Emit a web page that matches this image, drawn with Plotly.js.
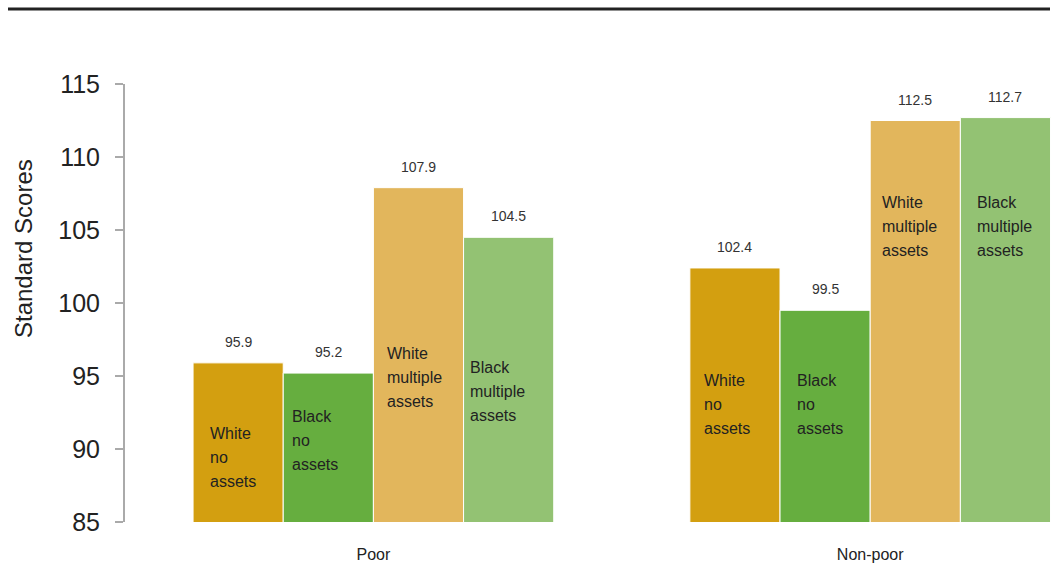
<!DOCTYPE html>
<html>
<head>
<meta charset="utf-8">
<script src="https://cdn.plot.ly/plotly-3.0.1.min.js"></script>
<style>html,body{margin:0;padding:0;background:#fff;}#chart{width:1057px;height:570px;}</style>
</head>
<body>
<div id="chart"></div>
<script>
// ---- data ----
const categories = ['Poor', 'Non-poor'];
const seriesNames = ['White no assets', 'Black no assets', 'White multiple assets', 'Black multiple assets'];
const whiteNoAssets = [95.9, 102.4];
const blackNoAssets = [95.2, 99.5];
const whiteMultipleAssets = [107.9, 112.5];
const blackMultipleAssets = [104.5, 112.7];
const barLabelLines = [
  ['White', 'no', 'assets'],
  ['Black', 'no', 'assets'],
  ['White', 'multiple', 'assets'],
  ['Black', 'multiple', 'assets']
];
const yTickValues = [85, 90, 95, 100, 105, 110, 115];
const yAxisTitle = 'Standard Scores';

// ---- styling / layout placement (not data) ----
const colors = ['#D39F10', '#66AE3F', '#E2B65C', '#93C273'];
const FONT = 'Liberation Sans, Arial, sans-serif';
const bargap = 0.274;
const barW = (1 - bargap) / 4;
// label block vertical centre (axis units) and left padding (px), per category then series
const labelCentre = [[89.45, 90.55, 94.93, 93.97], [93.08, 93.08, 105.27, 105.27]];
const labelPad = [[15, 7, 12, 4], [12, 15, 10, 15]];
const lineGap = 24;

const seriesValues = [whiteNoAssets, blackNoAssets, whiteMultipleAssets, blackMultipleAssets];

const traces = seriesValues.map((vals, j) => ({
  type: 'bar',
  name: seriesNames[j],
  x: categories,
  y: vals,
  marker: {color: colors[j], line: {color: '#ffffff', width: 1}},
  hoverinfo: 'x+y+name'
}));

const annotations = [];
seriesValues.forEach((vals, j) => {
  vals.forEach((v, i) => {
    annotations.push({
      xref: 'x', yref: 'y',
      x: i + (j - 1.5) * barW, y: v,
      text: String(v.toFixed(1)),
      showarrow: false, xanchor: 'center', yanchor: 'middle', yshift: 21,
      font: {family: FONT, size: 14, color: '#333333'}
    });
    const lines = barLabelLines[j];
    lines.forEach((ln, k) => {
      annotations.push({
        xref: 'x', yref: 'y',
        x: i + (j - 2) * barW, y: labelCentre[i][j],
        xshift: labelPad[i][j],
        yshift: ((lines.length - 1) / 2 - k) * lineGap,
        text: ln,
        showarrow: false, xanchor: 'left', yanchor: 'middle',
        font: {family: FONT, size: 16, color: '#222222'}
      });
    });
  });
});

// y-axis title (placed as rotated annotation to match original offset)
annotations.push({
  xref: 'paper', yref: 'paper',
  x: (24 - 125) / 932, y: (522 - 249) / 438,
  xanchor: 'center', yanchor: 'middle',
  text: yAxisTitle, textangle: -90, showarrow: false,
  font: {family: FONT, size: 24, color: '#222222'}
});

const layout = {
  width: 1057, height: 570,
  margin: {l: 125, r: 0, t: 84, b: 48, pad: 0},
  paper_bgcolor: '#ffffff', plot_bgcolor: '#ffffff',
  showlegend: false,
  barmode: 'group', bargap: bargap, bargroupgap: 0,
  font: {family: FONT, color: '#222222'},
  xaxis: {
    type: 'category', range: [-0.5, 1.376],
    showline: false, showgrid: false, zeroline: false, ticks: '',
    tickfont: {family: FONT, size: 16, color: '#222222'},
    ticklabelstandoff: 21, automargin: false, fixedrange: true
  },
  yaxis: {
    range: [85, 115], tickvals: yTickValues, ticktext: yTickValues.map(String),
    showline: true, linecolor: '#aaaaaa', linewidth: 2,
    ticks: 'outside', ticklen: 8, tickwidth: 2, tickcolor: '#aaaaaa',
    showgrid: false, zeroline: false,
    tickfont: {family: FONT, size: 25, color: '#222222'},
    ticklabelstandoff: 10,
    automargin: false, fixedrange: true
  },
  annotations: annotations,
  shapes: [{
    type: 'line', xref: 'paper', yref: 'paper',
    x0: (8 - 125) / 932, x1: (1050 - 125) / 932,
    y0: (522 - 9) / 438, y1: (522 - 9) / 438,
    line: {color: '#222222', width: 3}
  }]
};

Plotly.newPlot('chart', traces, layout, {displayModeBar: false, staticPlot: true});
</script>
</body>
</html>
